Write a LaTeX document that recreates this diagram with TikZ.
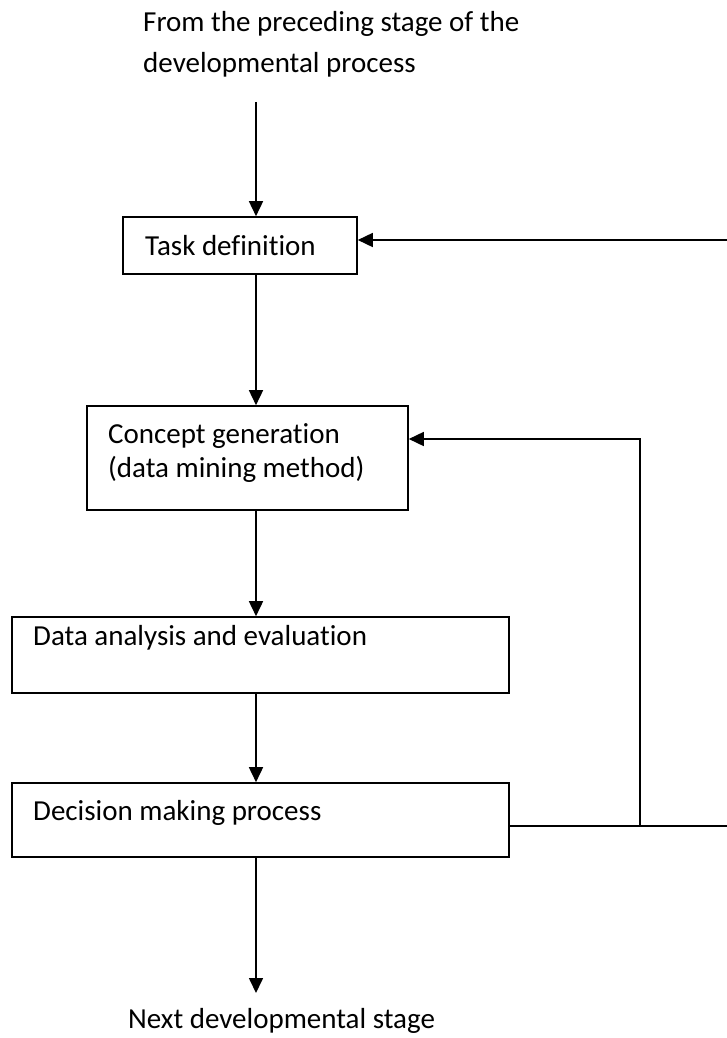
\documentclass[tikz,border=0pt]{standalone}
\usepackage{fontspec}
\setmainfont{Carlito}[Ligatures={NoCommon}]
\usetikzlibrary{arrows.meta}
\begin{document}
\begin{tikzpicture}[x=1pt,y=-1pt,
  box/.style={draw, line width=1.6pt, rectangle, inner sep=0pt},
  conn/.style={line width=1.6pt},
  arr/.style={conn, -{Triangle[length=15pt,width=14pt]}},
  lbl/.style={anchor=base west, inner sep=0pt, font=\fontsize{29}{34}\selectfont}]
\useasboundingbox (0,0) rectangle (727,1038);
\fill[white] (0,0) rectangle (727,1038);
% boxes
\node[box, minimum width=234pt, minimum height=57pt] (task) at (240,245.5) {};
\node[box, minimum width=321pt, minimum height=104pt] (concept) at (247.5,458) {};
\node[box, minimum width=497pt, minimum height=76pt] (data) at (260.5,655) {};
\node[box, minimum width=497pt, minimum height=74pt] (decision) at (260.5,820) {};
% texts
\node[lbl] (from1) at (143,32) {From the preceding stage of the};
\node[lbl] (from2) at (143,73) {developmental process};
\node[lbl] (tasktxt) at (145,255) {Task definition};
\node[lbl] (concept1) at (108,443) {Concept generation};
\node[lbl] (concept2) at (108,477) {(data mining method)};
\node[lbl] (datatxt) at (33,645) {Data analysis and evaluation};
\node[lbl] (dectxt) at (33,820) {Decision making process};
\node[lbl] (next) at (128,1028) {Next developmental stage};
% coordinates
\coordinate (start) at (256,102);
\coordinate (end) at (256,993);
\coordinate (fa) at (729,240);
\coordinate (fb) at (729,826);
\coordinate (split) at (640,826);
\coordinate (turn) at (640,439);
% main flow
\draw[arr] (start) -- (start |- task.north);
\draw[arr] (task.south -| start) -- (concept.north -| start);
\draw[arr] (concept.south -| start) -- (data.north -| start);
\draw[arr] (data.south -| start) -- (decision.north -| start);
\draw[arr] (decision.south -| start) -- (end);
% feedback
\draw[conn] (fb -| decision.east) -- (fb);
\draw[arr] (split) -- (turn) -- (turn -| concept.east);
\draw[arr] (fa) -- (fa -| task.east);
\end{tikzpicture}
\end{document}
